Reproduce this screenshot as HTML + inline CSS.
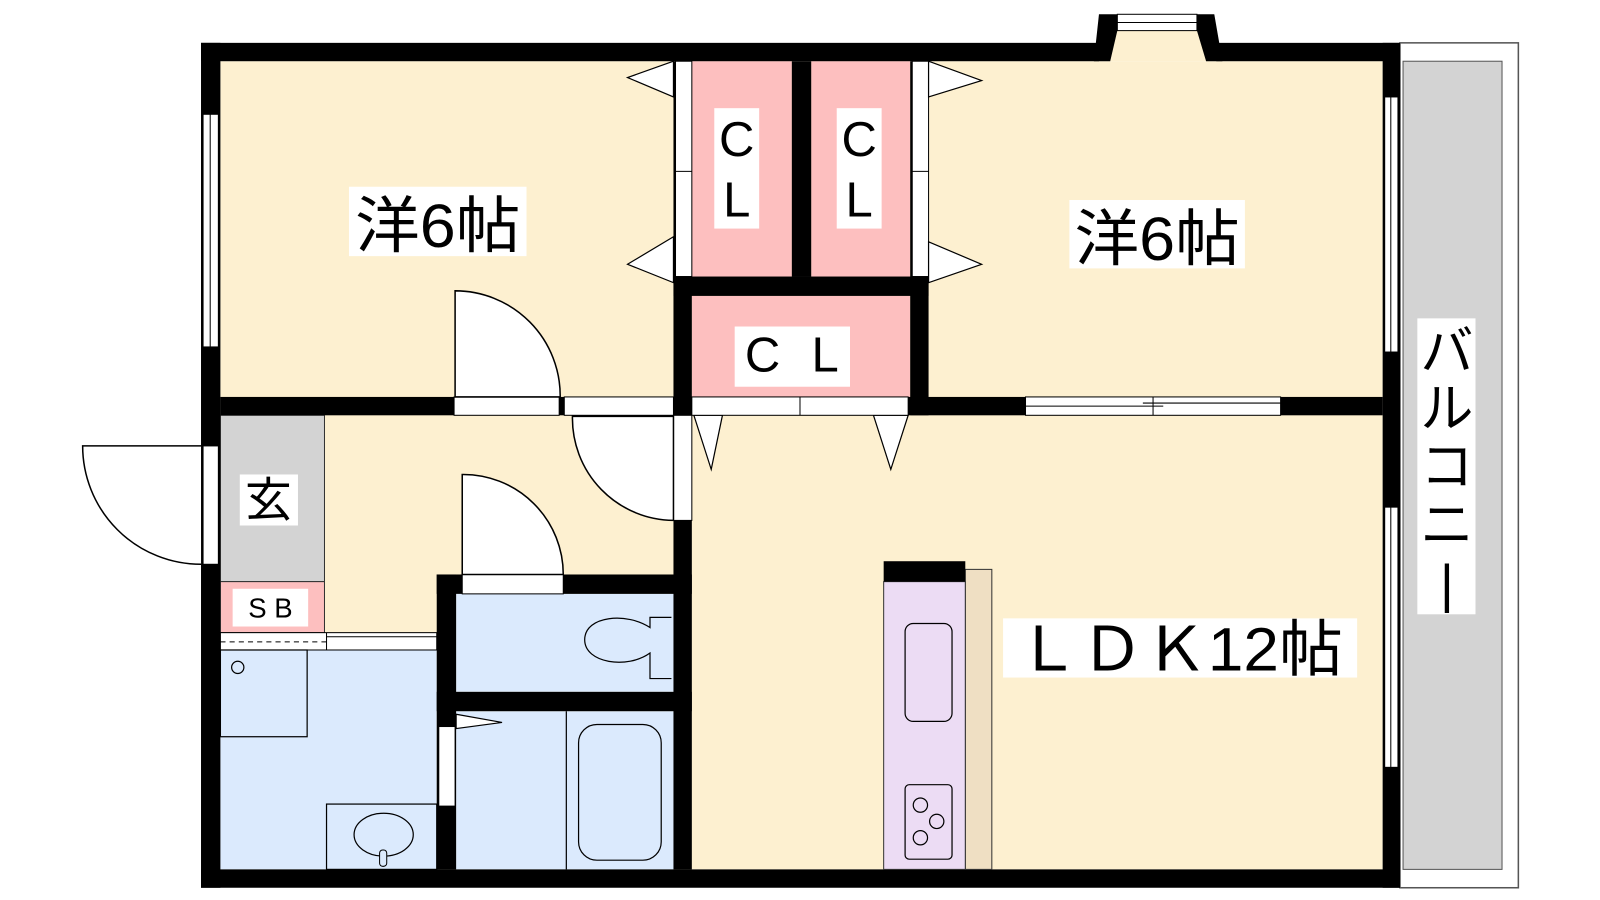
<!DOCTYPE html>
<html><head><meta charset="utf-8"><style>
html,body{margin:0;padding:0;background:#fff;width:1600px;height:900px;overflow:hidden}
text{font-family:"Liberation Sans","Noto Sans CJK JP",sans-serif;fill:#000}
</style></head><body>
<svg width="1600" height="900" viewBox="0 0 1600 900" xmlns="http://www.w3.org/2000/svg">
<g transform="scale(1.0204)">
<!-- balcony -->
<rect x="1372" y="42" width="116" height="828" fill="#fff" stroke="#555" stroke-width="1.5"/>
<rect x="1375" y="60" width="97" height="792" fill="#d3d3d3" stroke="#555" stroke-width="1"/>
<!-- floors -->
<rect x="216" y="60" width="1139" height="792" fill="#fdf0d0"/>
<rect x="678" y="60" width="98" height="211" fill="#fdbfbf"/>
<rect x="795" y="60" width="97" height="211" fill="#fdbfbf"/>
<rect x="678" y="290" width="214" height="99" fill="#fdbfbf"/>
<rect x="216" y="407" width="102" height="163" fill="#d3d3d3" stroke="#333" stroke-width="1"/>
<rect x="216" y="570" width="102" height="50" fill="#fdbfbf" stroke="#333" stroke-width="1"/>
<rect x="216" y="637" width="212" height="215" fill="#dbeafd"/>
<rect x="447" y="582" width="213" height="96" fill="#dbeafd"/>
<rect x="447" y="697" width="213" height="155" fill="#dbeafd"/>
<!-- top window bump -->
<rect x="1085" y="30" width="100" height="30" fill="#fdf0d0"/>
<polygon points="1077,14 1095,14 1095,30 1088,60 1072,60" fill="#000"/>
<polygon points="1173,14 1190,14 1198,60 1182,60 1173,30" fill="#000"/>
<rect x="1095" y="14" width="78" height="16" fill="#fff" stroke="#000" stroke-width="1"/>
<line x1="1095" y1="22" x2="1173" y2="22" stroke="#000"/>
<!-- outer walls -->
<rect x="197" y="42" width="880" height="18" fill="#000"/>
<rect x="1192" y="42" width="180" height="18" fill="#000"/>
<rect x="197" y="852" width="1175" height="18" fill="#000"/>
<rect x="197" y="42" width="19" height="828" fill="#000"/>
<rect x="1355" y="42" width="17" height="828" fill="#000"/>
<!-- left windows -->
<rect x="199" y="112" width="15" height="228" fill="#fff" stroke="#000" stroke-width="1"/>
<line x1="206" y1="112" x2="206" y2="340" stroke="#000"/>
<rect x="199" y="437" width="15" height="116" fill="#fff" stroke="#000" stroke-width="1"/>
<path d="M197 437 H81 A116 116 0 0 0 197 553" fill="#fff" stroke="#000" stroke-width="1.5"/>
<!-- right windows -->
<rect x="1357" y="95" width="13" height="250" fill="#fff" stroke="#000" stroke-width="1"/>
<line x1="1363" y1="95" x2="1363" y2="345" stroke="#000"/>
<rect x="1357" y="497" width="13" height="255" fill="#fff" stroke="#000" stroke-width="1"/>
<line x1="1363" y1="497" x2="1363" y2="752" stroke="#000"/>
<!-- interior walls -->
<rect x="216" y="389" width="1139" height="18" fill="#000"/>
<rect x="660" y="60" width="18" height="347" fill="#000"/>
<rect x="776" y="60" width="19" height="211" fill="#000"/>
<rect x="892" y="60" width="18" height="347" fill="#000"/>
<rect x="660" y="271" width="250" height="19" fill="#000"/>
<rect x="660" y="407" width="18" height="445" fill="#000"/>
<rect x="428" y="563" width="19" height="289" fill="#000"/>
<rect x="428" y="563" width="250" height="19" fill="#000"/>
<rect x="428" y="678" width="250" height="19" fill="#000"/>
<!-- closet door panels -->
<rect x="662" y="60" width="16" height="211" fill="#fff" stroke="#000" stroke-width="1"/>
<line x1="662" y1="168" x2="678" y2="168" stroke="#000"/>
<rect x="894" y="60" width="16" height="211" fill="#fff" stroke="#000" stroke-width="1"/>
<line x1="894" y1="168" x2="910" y2="168" stroke="#000"/>
<g fill="#fff" stroke="#000" stroke-width="1.2">
<polygon points="660,60 615,76 660,95"/>
<polygon points="660,232 615,259 660,277"/>
<polygon points="910,60 962,79 910,95"/>
<polygon points="910,237 962,259 910,277"/>
<polygon points="680,407 697,460 708,407"/>
<polygon points="856,407 873,460 890,407"/>
</g>
<rect x="678" y="389" width="212" height="18" fill="#fff" stroke="#000" stroke-width="1"/>
<line x1="784" y1="389" x2="784" y2="407" stroke="#000"/>
<!-- sliding window between room and LDK -->
<rect x="1005" y="389" width="250" height="18" fill="#fff" stroke="#000" stroke-width="1"/>
<line x1="1005" y1="398" x2="1140" y2="398" stroke="#000"/>
<line x1="1120" y1="395" x2="1255" y2="395" stroke="#000"/>
<line x1="1130" y1="389" x2="1130" y2="407" stroke="#000"/>
<!-- doors -->
<rect x="445" y="389" width="103" height="18" fill="#fff" stroke="#000" stroke-width="1"/>
<path d="M446 389 V285 A103 103 0 0 1 549 389 Z" fill="#fff" stroke="#000" stroke-width="1.5"/>
<rect x="553" y="389" width="107" height="18" fill="#fff" stroke="#000" stroke-width="1"/>
<rect x="660" y="407" width="18" height="103" fill="#fff" stroke="#000" stroke-width="1"/>
<path d="M660 408 H561 A100 100 0 0 0 660 510 Z" fill="#fff" stroke="#000" stroke-width="1.5"/>
<rect x="453" y="563" width="99" height="19" fill="#fff" stroke="#000" stroke-width="1"/>
<path d="M453 563 V465 A98 98 0 0 1 552 563 Z" fill="#fff" stroke="#000" stroke-width="1.5"/>
<rect x="430" y="712" width="16" height="78" fill="#fff" stroke="#000" stroke-width="1"/>
<polygon points="447,700 492,708 447,714" fill="#fff" stroke="#000" stroke-width="1.2"/>
<!-- wash sliding door -->
<rect x="216" y="620" width="212" height="17" fill="#fff" stroke="#000" stroke-width="1"/>
<line x1="216" y1="629" x2="320" y2="629" stroke="#000" stroke-dasharray="5,4"/>
<line x1="320" y1="624" x2="428" y2="624" stroke="#000"/>
<line x1="320" y1="620" x2="320" y2="637" stroke="#000"/>
<!-- washroom fixtures -->
<rect x="216" y="637" width="85" height="85" fill="none" stroke="#000" stroke-width="1.2"/>
<circle cx="233" cy="654" r="6" fill="none" stroke="#000" stroke-width="1.2"/>
<rect x="320" y="788" width="108" height="64" fill="none" stroke="#000" stroke-width="1.2"/>
<ellipse cx="376" cy="818" rx="29" ry="21" fill="none" stroke="#000" stroke-width="1.2"/>
<rect x="372" y="833" width="7" height="16" rx="3" fill="#dbeafd" stroke="#000"/>
<!-- toilet -->
<path d="M658 605 H637 V615 C615 600 573 603 573 627 C573 650 615 656 637 640 V665 H658" fill="none" stroke="#000" stroke-width="1.2"/>
<!-- bath -->
<line x1="555" y1="697" x2="555" y2="852" stroke="#000" stroke-width="1.2"/>
<rect x="567" y="710" width="81" height="133" rx="18" fill="none" stroke="#000" stroke-width="1.2"/>
<!-- kitchen -->
<rect x="946" y="558" width="26" height="294" fill="#efdfc3" stroke="#333" stroke-width="1"/>
<rect x="866" y="570" width="80" height="282" fill="#ecdcf4" stroke="#333" stroke-width="1"/>
<rect x="866" y="550" width="80" height="20" fill="#000"/>
<rect x="887" y="611" width="46" height="96" rx="8" fill="none" stroke="#000" stroke-width="1.2"/>
<rect x="887" y="769" width="46" height="73" rx="4" fill="none" stroke="#000" stroke-width="1.2"/>
<g fill="none" stroke="#000" stroke-width="1.2"><circle cx="902" cy="789" r="7"/><circle cx="918" cy="805" r="7"/><circle cx="902" cy="821" r="7"/></g>
<!-- labels -->
<rect x="342" y="183" width="174" height="68" fill="#fff"/>
<text x="429" y="242" font-size="60" text-anchor="middle" textLength="162" lengthAdjust="spacingAndGlyphs">洋6帖</text>
<rect x="1048" y="196" width="172" height="67" fill="#fff"/>
<text x="1134" y="255" font-size="60" text-anchor="middle" textLength="162" lengthAdjust="spacingAndGlyphs">洋6帖</text>
<rect x="700" y="106" width="44" height="118" fill="#fff"/>
<text x="722" y="153" font-size="48" text-anchor="middle">C</text>
<text x="722" y="212" font-size="48" text-anchor="middle">L</text>
<rect x="820" y="106" width="44" height="118" fill="#fff"/>
<text x="842" y="153" font-size="48" text-anchor="middle">C</text>
<text x="842" y="212" font-size="48" text-anchor="middle">L</text>
<rect x="720" y="320" width="113" height="59" fill="#fff"/>
<text x="776" y="364" font-size="48" text-anchor="middle" textLength="92" lengthAdjust="spacing">CL</text>
<rect x="983" y="606" width="347" height="58" fill="#fff"/>
<text x="1156" y="657" font-size="60" text-anchor="middle" textLength="320" lengthAdjust="spacingAndGlyphs">ＬＤＫ12帖</text>
<rect x="1389" y="312" width="57" height="290" fill="#fff"/>
<text font-size="52" text-anchor="middle"><tspan x="1418" y="362">バ</tspan><tspan x="1418" y="418">ル</tspan><tspan x="1418" y="475">コ</tspan><tspan x="1418" y="532">ニ</tspan><tspan x="1418" y="590">|</tspan></text>
<rect x="235" y="465" width="57" height="50" fill="#fff"/>
<text x="263" y="506" font-size="46" text-anchor="middle">玄</text>
<rect x="228" y="577" width="74" height="37" fill="#fff"/>
<text x="265" y="605" font-size="27" text-anchor="middle">S B</text>
</g>
</svg>
</body></html>
